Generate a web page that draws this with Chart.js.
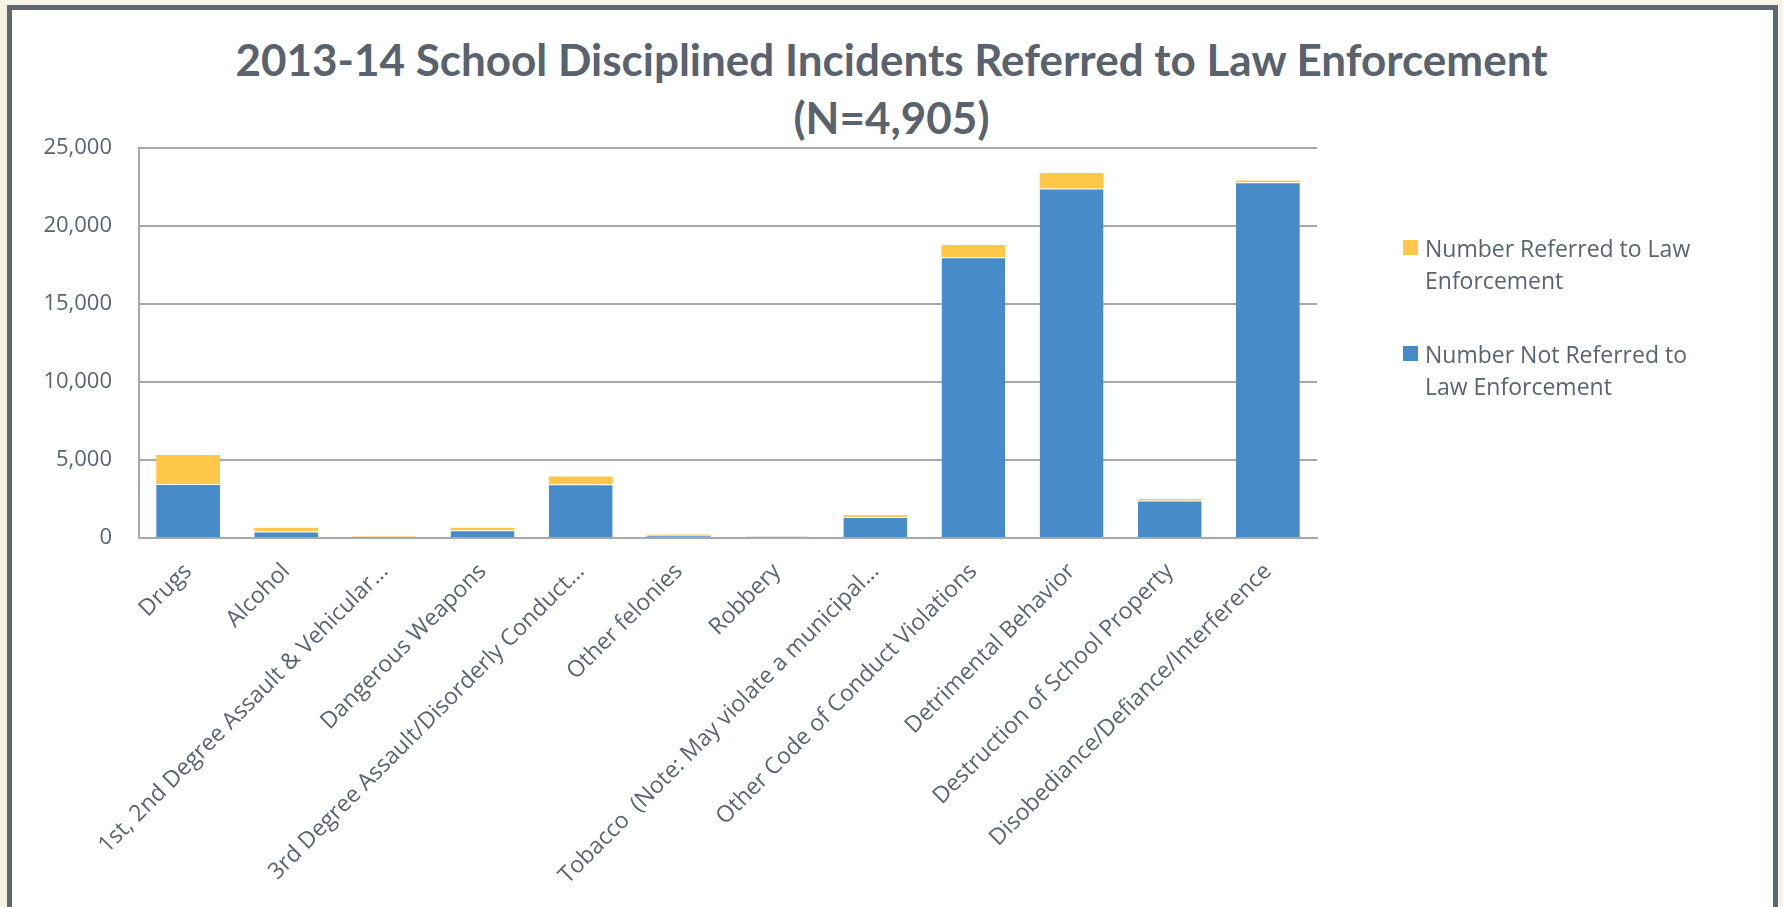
<!DOCTYPE html>
<html lang="en">
<head>
    <meta charset="UTF-8">
    <title>2013-14 School Disciplined Incidents Referred to Law Enforcement</title>
    <style>
        html, body {
            margin: 0;
            padding: 0;
        }

        body {
            background-color: #f6f3e6;
            width: 1783px;
            height: 907px;
            overflow: hidden;
            position: relative;
            font-family: "Open Sans", sans-serif;
        }

        .frame {
            position: absolute;
            left: 7px;
            top: 5px;
            width: 1761px;
            height: 910px;
            border: 5px solid #5e6670;
            border-bottom: none;
            background-color: #fff;
        }

        .title {
            position: absolute;
            left: 0;
            top: 30px;
            width: 1783px;
            text-align: center;
            font-family: Lato, sans-serif;
            font-weight: bold;
            font-size: 44px;
            line-height: 58px;
            color: #59626d;
        }

        #chart-container {
            position: absolute;
            left: 0;
            top: 0;
            width: 1783px;
            height: 907px;
        }

        .legend {
            position: absolute;
            left: 1403px;
            top: 232px;
            color: #5a6470;
            font-size: 23px;
            line-height: 32px;
        }

        .legend-item {
            display: flex;
            align-items: flex-start;
            margin-bottom: 42px;
        }

        .legend-box {
            width: 15px;
            height: 15px;
            margin-top: 8px;
            margin-right: 7px;
            flex: none;
        }
    </style>
    <script src="https://cdn.jsdelivr.net/npm/chart.js"></script>
</head>
<body>
    <div class="frame"></div>
    <div class="title">2013-14 School Disciplined Incidents Referred to Law Enforcement<br>(N=4,905)</div>
    <div id="chart-container">
        <canvas id="incident-chart"></canvas>
    </div>
    <div class="legend" id="legend"></div>
    <script>
        const categories = [
            'Drugs',
            'Alcohol',
            '1st, 2nd Degree Assault & Vehicular…',
            'Dangerous Weapons',
            '3rd Degree Assault/Disorderly Conduct…',
            'Other felonies',
            'Robbery',
            'Tobacco  (Note: May violate a municipal…',
            'Other Code of Conduct Violations',
            'Detrimental Behavior',
            'Destruction of School Property',
            'Disobediance/Defiance/Interference'
        ];
        const notReferred = [3460, 420, 50, 500, 3440, 150, 100, 1350, 18000, 22400, 2410, 22800];
        const referred = [1860, 240, 50, 160, 500, 70, 15, 110, 790, 1000, 90, 110];
        const yTickLabels = ['0', '5,000', '10,000', '15,000', '20,000', '25,000'];

        const textColor = '#5a6470';
        const gridColor = '#a6a8ab';

        // legend, yellow first like the original
        const legendItems = [
            { lines: ['Number Referred to Law', 'Enforcement'], color: '#ffc748' },
            { lines: ['Number Not Referred to', 'Law Enforcement'], color: '#478bc9' }
        ];
        const legendEl = document.getElementById('legend');
        legendItems.forEach(item => {
            const row = document.createElement('div');
            row.className = 'legend-item';
            const box = document.createElement('div');
            box.className = 'legend-box';
            box.style.backgroundColor = item.color;
            const label = document.createElement('div');
            label.innerHTML = item.lines.join('<br>');
            row.appendChild(box);
            row.appendChild(label);
            legendEl.appendChild(row);
        });

        const ctx = document.getElementById('incident-chart').getContext('2d');
        new Chart(ctx, {
            type: 'bar',
            data: {
                labels: categories,
                datasets: [
                    {
                        label: 'Number Not Referred to Law Enforcement',
                        data: notReferred,
                        backgroundColor: '#478bc9',
                        borderColor: 'rgba(255, 255, 255, 0.8)',
                        borderWidth: { top: 1, left: 0, right: 0, bottom: 0 }
                    },
                    {
                        label: 'Number Referred to Law Enforcement',
                        data: referred,
                        backgroundColor: '#ffc748',
                        borderWidth: 0
                    }
                ]
            },
            options: {
                responsive: true,
                maintainAspectRatio: false,
                animation: false,
                layout: {
                    padding: { top: 148, left: 12, right: 466, bottom: 0 }
                },
                datasets: {
                    bar: {
                        categoryPercentage: 1,
                        barPercentage: 0.65
                    }
                },
                plugins: {
                    legend: { display: false },
                    title: { display: false },
                    tooltip: { enabled: false }
                },
                scales: {
                    x: {
                        stacked: true,
                        afterFit: scale => { scale.height = 369; },
                        grid: { display: false },
                        border: { display: true, color: gridColor, width: 2 },
                        ticks: {
                            autoSkip: false,
                            maxRotation: 45,
                            minRotation: 45,
                            padding: 12,
                            color: textColor,
                            font: { family: 'Open Sans', size: 23 }
                        }
                    },
                    y: {
                        stacked: true,
                        min: 0,
                        max: 25000,
                        afterFit: scale => { scale.width = 127; },
                        grid: { color: gridColor, lineWidth: 2, drawTicks: false },
                        border: { display: true, color: gridColor, width: 2 },
                        ticks: {
                            stepSize: 5000,
                            padding: 27,
                            color: textColor,
                            font: { family: 'Open Sans', size: 22 },
                            callback: value => yTickLabels[value / 5000]
                        }
                    }
                }
            }
        });
    </script>
</body>
</html>
